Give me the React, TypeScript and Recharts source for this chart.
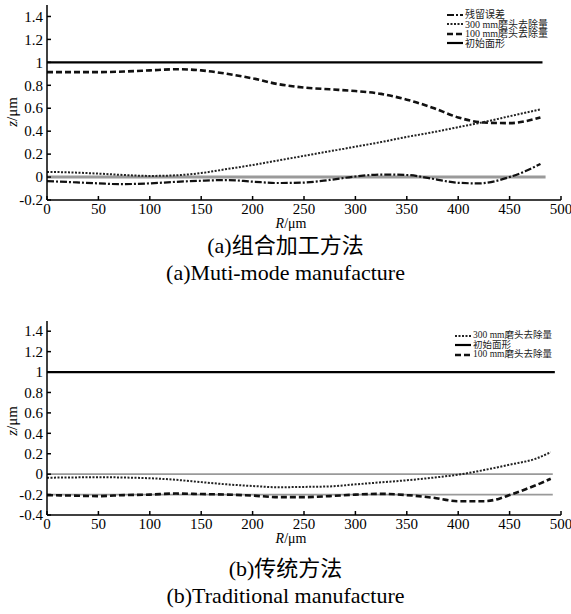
import React from 'react';
import { LineChart, Line, XAxis, YAxis } from 'recharts';

// shared axis ticks
const rTicks = [0, 50, 100, 150, 200, 250, 300, 350, 400, 450, 500];
const zTicksA = [-0.2, 0, 0.2, 0.4, 0.6, 0.8, 1, 1.2, 1.4];
const zTicksB = [-0.4, -0.2, 0, 0.2, 0.4, 0.6, 0.8, 1, 1.2, 1.4];

// (a) 组合加工方法
const residualR = [0, 25, 50, 70, 100, 125, 150, 175, 200, 225, 250, 275, 300, 325, 350, 375, 400, 420, 450, 465, 480];
const residualZ = [-0.035, -0.045, -0.055, -0.062, -0.055, -0.042, -0.032, -0.026, -0.04, -0.052, -0.048, -0.025, 0.005, 0.022, 0.018, -0.015, -0.05, -0.055, 0.0, 0.05, 0.115];
const tool300R_A = [0, 25, 50, 75, 100, 125, 150, 175, 200, 225, 250, 275, 300, 325, 350, 375, 400, 425, 450, 480];
const tool300Z_A = [0.045, 0.04, 0.03, 0.018, 0.01, 0.015, 0.035, 0.07, 0.105, 0.145, 0.185, 0.225, 0.265, 0.305, 0.35, 0.39, 0.435, 0.48, 0.53, 0.59];
const tool100R_A = [0, 25, 50, 75, 100, 125, 150, 175, 200, 225, 250, 275, 300, 325, 350, 375, 400, 425, 450, 480];
const tool100Z_A = [0.915, 0.915, 0.915, 0.92, 0.93, 0.94, 0.93, 0.9, 0.86, 0.81, 0.78, 0.765, 0.75, 0.725, 0.675, 0.605, 0.52, 0.475, 0.47, 0.52];
const initR_A = [0, 482];
const initZ_A = [1, 1];
const baseR_A = [0, 485];
const baseZ_A = [0, 0];

// (b) 传统方法
const tool300R_B = [0, 25, 50, 75, 100, 125, 150, 175, 200, 225, 250, 275, 300, 325, 350, 375, 400, 425, 450, 475, 490];
const tool300Z_B = [-0.035, -0.032, -0.03, -0.033, -0.04, -0.055, -0.078, -0.1, -0.116, -0.128, -0.125, -0.12, -0.1, -0.08, -0.06, -0.035, -0.005, 0.04, 0.093, 0.15, 0.215];
const tool100R_B = [0, 25, 50, 75, 100, 125, 150, 175, 200, 225, 250, 275, 300, 325, 350, 375, 400, 425, 440, 450, 465, 480, 490];
const tool100Z_B = [-0.205, -0.21, -0.215, -0.205, -0.2, -0.19, -0.195, -0.2, -0.21, -0.225, -0.225, -0.215, -0.2, -0.193, -0.205, -0.23, -0.265, -0.265, -0.24, -0.205, -0.15, -0.09, -0.045];
const initR_B = [0, 494];
const initZ_B = [1, 1];
const baseR_B = [0, 492];
const baseZeroZ_B = [0, 0];
const baseLowZ_B = [-0.2, -0.2];

const pts = (r: number[], z: number[]) => r.map((v, i) => ({ r: v, z: z[i] }));

const SERIF = '"Liberation Serif", "Times New Roman", serif';
const CJK = '"Liberation Serif", "Noto Sans CJK SC", serif';

const ZLabel = ({ cy }: any) => (
  <text x={14} y={cy} transform={`rotate(-90 14 ${cy})`} textAnchor="middle" dominantBaseline="middle"
    style={{ fontFamily: SERIF }} fontSize={15} fill="#000">
    <tspan fontStyle="italic">z</tspan>/μm
  </text>
);

const RLabel = ({ cy }: any) => (
  <text x={291} y={cy} textAnchor="middle" dominantBaseline="middle" style={{ fontFamily: SERIF }} fontSize={14} fill="#000">
    <tspan fontStyle="italic">R</tspan>/μm
  </text>
);

const XTick = ({ x, y, payload }: any) => (
  <text x={x} y={y + 1} dy="0.75em" textAnchor="middle" style={{ fontFamily: SERIF }} fontSize={15} fill="#000">
    {payload.value}
  </text>
);

const YTick = ({ x, y, payload }: any) => (
  <text x={x - 1} y={y} dy="0.35em" textAnchor="end" style={{ fontFamily: SERIF }} fontSize={15} fill="#000">
    {payload.value}
  </text>
);

const styles: Record<string, any> = {
  residual: { stroke: '#111', strokeWidth: 2.2, strokeDasharray: '7 2 2 2' },
  t300: { stroke: '#222', strokeWidth: 2, strokeDasharray: '2 1.5' },
  t100: { stroke: '#111', strokeWidth: 2.6, strokeDasharray: '6 3' },
  init: { stroke: '#000', strokeWidth: 2.2 },
};

function LegendBox({ items, left, top, gap, size }: any) {
  return (
    <div style={{ position: 'absolute', left, top, fontFamily: CJK, fontSize: size, color: '#222', lineHeight: `${gap}px` }}>
      {items.map((it: any) => (
        <div key={it.name} style={{ display: 'flex', alignItems: 'center', height: gap, whiteSpace: 'pre' }}>
          <svg width={16} height={6} style={{ marginRight: 2 }}>
            <line x1={0} y1={3} x2={16} y2={3} {...styles[it.key]} />
          </svg>
          <span>{it.name}</span>
        </div>
      ))}
    </div>
  );
}

const legendA = [
  { key: 'residual', name: '残留误差' },
  { key: 't300', name: '300 mm磨头去除量' },
  { key: 't100', name: '100 mm磨头去除量' },
  { key: 'init', name: '初始面形' },
];
const legendB = [
  { key: 't300', name: '300 mm磨头去除量' },
  { key: 'init', name: '初始面形' },
  { key: 't100', name: '100 mm磨头去除量' },
];

function Caption({ top, zh, en }: any) {
  return (
    <div style={{ position: 'absolute', left: 0, top, width: 571, textAlign: 'center', color: '#000' }}>
      <div style={{ fontFamily: CJK, fontSize: 22, lineHeight: '27px' }}>{zh}</div>
      <div style={{ fontFamily: SERIF, fontSize: 22, lineHeight: '27px' }}>{en}</div>
    </div>
  );
}

export default function App() {
  return (
    <div style={{ position: 'absolute', left: 0, top: 0, width: 571, height: 614, background: '#fff' }}>
      <div style={{ position: 'absolute', left: 0, top: 0 }}>
        <LineChart width={571} height={235} margin={{ top: 5, right: 10, bottom: 10, left: 7 }}>
          <XAxis type="number" dataKey="r" domain={[0, 500]} ticks={rTicks} interval={0} height={25}
            stroke="#000" strokeWidth={1.5} tickSize={-4} tickMargin={6} tick={<XTick />}
            label={<RLabel cy={225} />} />
          <YAxis type="number" dataKey="z" domain={[-0.2, 1.5]} ticks={zTicksA} interval={0} width={40}
            stroke="#000" strokeWidth={1.5} tickSize={-4} tickMargin={7} tick={<YTick />}
            label={<ZLabel cy={112} />} />
          <Line data={pts(baseR_A, baseZ_A)} dataKey="z" stroke="#9a9a9a" strokeWidth={3} dot={false} isAnimationActive={false} />
          <Line data={pts(initR_A, initZ_A)} dataKey="z" {...styles.init} dot={false} isAnimationActive={false} />
          <Line data={pts(tool100R_A, tool100Z_A)} dataKey="z" type="monotone" {...styles.t100} dot={false} isAnimationActive={false} />
          <Line data={pts(tool300R_A, tool300Z_A)} dataKey="z" type="monotone" {...styles.t300} dot={false} isAnimationActive={false} />
          <Line data={pts(residualR, residualZ)} dataKey="z" type="monotone" {...styles.residual} dot={false} isAnimationActive={false} />
        </LineChart>
      </div>
      <LegendBox items={legendA} left={447} top={10} gap={9.5} size={10} />
      <Caption top={232} zh="(a)组合加工方法" en="(a)Muti-mode manufacture" />

      <div style={{ position: 'absolute', left: 0, top: 300 }}>
        <LineChart width={571} height={250} margin={{ top: 21, right: 10, bottom: 10, left: 7 }}>
          <XAxis type="number" dataKey="r" domain={[0, 500]} ticks={rTicks} interval={0} height={25}
            stroke="#000" strokeWidth={1.5} tickSize={-4} tickMargin={6} tick={<XTick />}
            label={<RLabel cy={240} />} />
          <YAxis type="number" dataKey="z" domain={[-0.4, 1.5]} ticks={zTicksB} interval={0} width={40}
            stroke="#000" strokeWidth={1.5} tickSize={-4} tickMargin={7} tick={<YTick />}
            label={<ZLabel cy={121} />} />
          <Line data={pts(baseR_B, baseZeroZ_B)} dataKey="z" stroke="#9a9a9a" strokeWidth={1.6} dot={false} isAnimationActive={false} />
          <Line data={pts(baseR_B, baseLowZ_B)} dataKey="z" stroke="#9a9a9a" strokeWidth={1.6} dot={false} isAnimationActive={false} />
          <Line data={pts(initR_B, initZ_B)} dataKey="z" {...styles.init} dot={false} isAnimationActive={false} />
          <Line data={pts(tool300R_B, tool300Z_B)} dataKey="z" type="monotone" {...styles.t300} dot={false} isAnimationActive={false} />
          <Line data={pts(tool100R_B, tool100Z_B)} dataKey="z" type="monotone" {...styles.t100} dot={false} isAnimationActive={false} />
        </LineChart>
      </div>
      <LegendBox items={legendB} left={455} top={331} gap={9.5} size={9.5} />
      <Caption top={555} zh="(b)传统方法" en="(b)Traditional manufacture" />
    </div>
  );
}
